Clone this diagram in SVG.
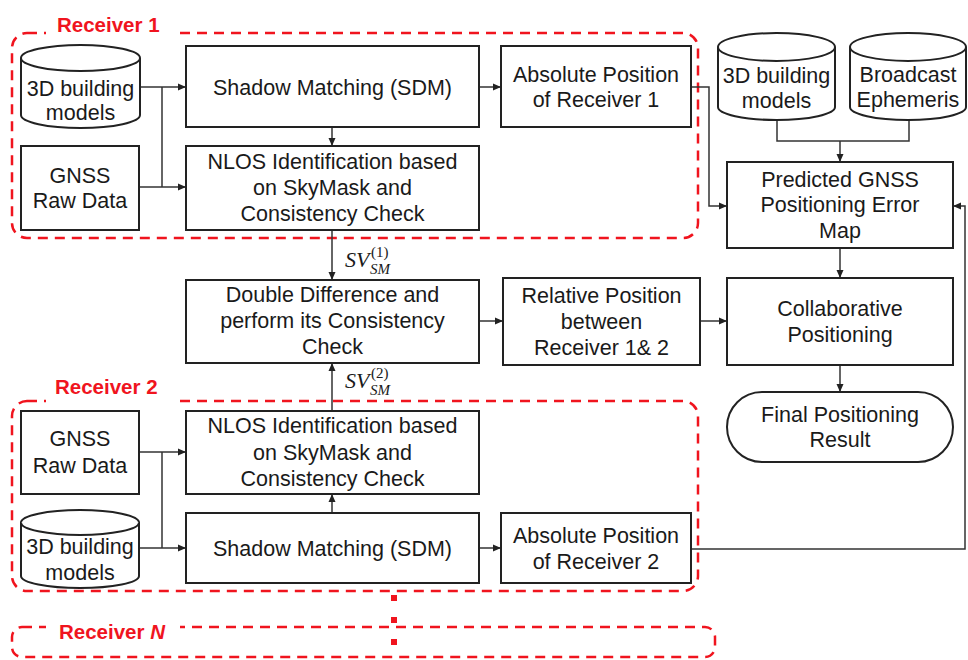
<svg xmlns="http://www.w3.org/2000/svg" width="968" height="660" viewBox="0 0 968 660">
<defs>
<marker id="arr" markerWidth="9" markerHeight="8" refX="8" refY="4" orient="auto" markerUnits="userSpaceOnUse">
<path d="M0,0.5 L8,4 L0,7.5 z" fill="#222"/>
</marker>
<style>
.box{fill:#fff;stroke:#222;stroke-width:2}
.t{font-family:"Liberation Sans",Arial,sans-serif;font-size:21.5px;fill:#1a1a1a;text-anchor:middle}
.c{fill:none;stroke:#333;stroke-width:1.5}
.a{marker-end:url(#arr)}
.grp{fill:none;stroke:#f0141e;stroke-width:2.5;stroke-dasharray:10 7}
.lab{font-family:"Liberation Sans",Arial,sans-serif;font-size:20.5px;font-weight:bold;fill:#f0141e}
.sv{font-family:"Liberation Serif","Times New Roman",serif;font-style:italic;fill:#1a1a1a}
.up{font-family:"Liberation Serif","Times New Roman",serif;font-style:normal;fill:#1a1a1a}
.dot{fill:#f0141e}
</style>
</defs>
<rect width="968" height="660" fill="#fff"/>

<g id="groups">
<rect class="grp" x="12" y="33" width="686" height="205" rx="15"/>
<rect x="46" y="14" width="128" height="26" fill="#fff"/>
<text class="lab" x="57" y="32">Receiver 1</text>
<rect class="grp" x="12" y="401" width="686" height="190" rx="15"/>
<rect x="46" y="376" width="128" height="30" fill="#fff"/>
<text class="lab" x="55" y="394">Receiver 2</text>
<rect class="grp" x="12" y="627" width="703" height="30" rx="10"/>
<rect x="46" y="618" width="134" height="28" fill="#fff"/>
<text class="lab" x="59" y="639">Receiver <tspan font-style="italic">N</tspan></text>
<rect class="dot" x="391" y="595" width="6" height="6"/>
<rect class="dot" x="391" y="617" width="6" height="6"/>
<rect class="dot" x="391" y="639" width="6" height="6"/>
</g>

<g id="connectors">
<path class="c a" d="M140,87 H186"/>
<path class="c a" d="M139,187 H186"/>
<path class="c" d="M162,87 V187"/>
<path class="c a" d="M332,127 V146"/>
<path class="c a" d="M479,87 H501"/>
<path class="c a" d="M691,87 H709 V206 H727"/>
<path class="c" d="M777,120 V141 H909 V120"/>
<path class="c a" d="M840,141 V162"/>
<path class="c a" d="M332,230 V280"/>
<path class="c a" d="M332,411 V363"/>
<path class="c a" d="M479,321 H503"/>
<path class="c a" d="M700,321 H727"/>
<path class="c a" d="M840,248 V278"/>
<path class="c a" d="M840,365 V392"/>
<path class="c a" d="M691,549 H965 V206 H953"/>
<path class="c a" d="M139,452 H186"/>
<path class="c a" d="M139,548 H186"/>
<path class="c" d="M162,452 V548"/>
<path class="c a" d="M332,513 V494"/>
<path class="c a" d="M479,548 H501"/>
</g>

<g id="sv1">
<text class="sv" x="345" y="267" font-size="22">SV</text>
<text class="sv" x="370" y="274" font-size="15">SM</text>
<text class="up" x="371" y="257" font-size="15">(1)</text>
</g>
<g id="sv2">
<text class="sv" x="345" y="388" font-size="22">SV</text>
<text class="sv" x="370" y="395" font-size="15">SM</text>
<text class="up" x="371" y="378" font-size="15">(2)</text>
</g>

<g id="r1-3d">
<path class="box" d="M21,58 A59.5,13 0 0 1 140,58 V115 A59.5,13 0 0 1 21,115 Z"/>
<path class="box" d="M21,58 A59.5,13 0 0 0 140,58" fill="none"/>
<text class="t" x="80.5" y="95.5">3D building</text>
<text class="t" x="80.5" y="120">models</text>
</g>
<g id="r1-gnss">
<rect class="box" x="21" y="146" width="118" height="84"/>
<text class="t" x="80" y="183">GNSS</text>
<text class="t" x="80" y="208">Raw Data</text>
</g>
<g id="r1-sdm">
<rect class="box" x="186" y="46" width="293" height="81"/>
<text class="t" x="332.5" y="95">Shadow Matching (SDM)</text>
</g>
<g id="r1-nlos">
<rect class="box" x="186" y="146" width="293" height="84"/>
<text class="t" x="332.5" y="169">NLOS Identification based</text>
<text class="t" x="332.5" y="195">on SkyMask and</text>
<text class="t" x="332.5" y="221">Consistency Check</text>
</g>
<g id="r1-abs">
<rect class="box" x="501" y="46" width="190" height="81"/>
<text class="t" x="596" y="82">Absolute Position</text>
<text class="t" x="596" y="107">of Receiver 1</text>
</g>
<g id="db-3d">
<path class="box" d="M718,47 A58.5,14 0 0 1 835,47 V107 A58.5,13 0 0 1 718,107 Z"/>
<path class="box" d="M718,47 A58.5,14 0 0 0 835,47" fill="none"/>
<text class="t" x="776.5" y="83">3D building</text>
<text class="t" x="776.5" y="108">models</text>
</g>
<g id="db-eph">
<path class="box" d="M850,47 A58,14 0 0 1 966,47 V107 A58,13 0 0 1 850,107 Z"/>
<path class="box" d="M850,47 A58,14 0 0 0 966,47" fill="none"/>
<text class="t" x="908" y="82">Broadcast</text>
<text class="t" x="908" y="107">Ephemeris</text>
</g>
<g id="pred">
<rect class="box" x="727" y="162" width="226" height="86"/>
<text class="t" x="840" y="187">Predicted GNSS</text>
<text class="t" x="840" y="212">Positioning Error</text>
<text class="t" x="840" y="238">Map</text>
</g>
<g id="dd">
<rect class="box" x="186" y="280" width="293" height="83"/>
<text class="t" x="332.5" y="302">Double Difference and</text>
<text class="t" x="332.5" y="328">perform its Consistency</text>
<text class="t" x="332.5" y="354">Check</text>
</g>
<g id="rel">
<rect class="box" x="503" y="278" width="197" height="87"/>
<text class="t" x="601.5" y="303">Relative Position</text>
<text class="t" x="601.5" y="329">between</text>
<text class="t" x="601.5" y="355">Receiver 1&amp; 2</text>
</g>
<g id="collab">
<rect class="box" x="727" y="278" width="226" height="87"/>
<text class="t" x="840" y="316">Collaborative</text>
<text class="t" x="840" y="342">Positioning</text>
</g>
<g id="final">
<rect class="box" x="727" y="392" width="226" height="70" rx="35"/>
<text class="t" x="840" y="422">Final Positioning</text>
<text class="t" x="840" y="447">Result</text>
</g>
<g id="r2-gnss">
<rect class="box" x="21" y="411" width="118" height="83"/>
<text class="t" x="80" y="446">GNSS</text>
<text class="t" x="80" y="473">Raw Data</text>
</g>
<g id="r2-nlos">
<rect class="box" x="186" y="411" width="293" height="83"/>
<text class="t" x="332.5" y="433">NLOS Identification based</text>
<text class="t" x="332.5" y="460">on SkyMask and</text>
<text class="t" x="332.5" y="486">Consistency Check</text>
</g>
<g id="r2-sdm">
<rect class="box" x="186" y="513" width="293" height="70"/>
<text class="t" x="332.5" y="556">Shadow Matching (SDM)</text>
</g>
<g id="r2-3d">
<path class="box" d="M21,522.5 A59,12.5 0 0 1 139,522.5 V576 A59,12 0 0 1 21,576 Z"/>
<path class="box" d="M21,522.5 A59,12.5 0 0 0 139,522.5" fill="none"/>
<text class="t" x="80" y="554">3D building</text>
<text class="t" x="80" y="580">models</text>
</g>
<g id="r2-abs">
<rect class="box" x="501" y="513" width="190" height="70"/>
<text class="t" x="596" y="543">Absolute Position</text>
<text class="t" x="596" y="569">of Receiver 2</text>
</g>
</svg>
